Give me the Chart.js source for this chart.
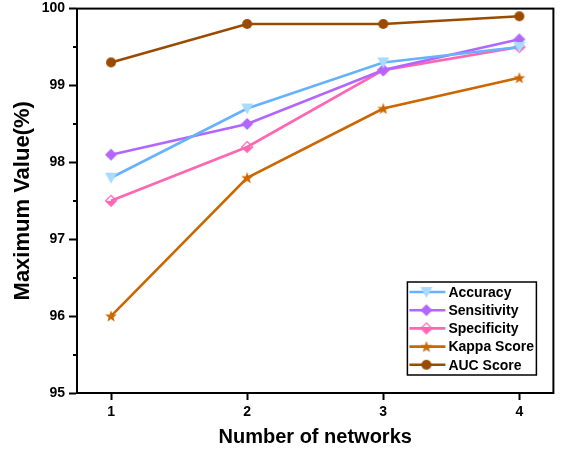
<!DOCTYPE html>
<html>
<head>
<meta charset="utf-8">
<script src="https://cdn.jsdelivr.net/npm/chart.js@4/dist/chart.umd.min.js"></script>
<style>
  html, body { margin: 0; padding: 0; background: #fff; }
  #wrap { width: 562px; height: 453px; }
</style>
</head>
<body>
<div id="wrap"><canvas id="c" width="562" height="453"></canvas></div>
<script>
const networks = [1, 2, 3, 4];
const accuracy    = [97.8, 98.7, 99.3, 99.5];
const sensitivity = [98.1, 98.5, 99.2, 99.6];
const specificity = [97.5, 98.2, 99.2, 99.5];
const kappa       = [96.0, 97.8, 98.7, 99.1];
const auc         = [99.3, 99.8, 99.8, 99.9];
const yTicks = [95, 96, 97, 98, 99, 100];
const seriesNames = ['Accuracy', 'Sensitivity', 'Specificity', 'Kappa Score', 'AUC Score'];

const FONT = '"Liberation Sans", Arial, sans-serif';

// marker sprites drawn on small canvases
function sprite(size, draw) {
  const c = document.createElement('canvas');
  c.width = size; c.height = size;
  const g = c.getContext('2d');
  draw(g, size / 2);
  return c;
}
const triDown = sprite(16, (g, m) => {
  g.beginPath();
  g.moveTo(m - 6, m - 5); g.lineTo(m + 6, m - 5); g.lineTo(m, m + 6);
  g.closePath(); g.fillStyle = '#a8dbff'; g.fill();
});
const diamond = sprite(16, (g, m) => {
  g.beginPath();
  g.moveTo(m, m - 6); g.lineTo(m + 6, m); g.lineTo(m, m + 6); g.lineTo(m - 6, m);
  g.closePath(); g.fillStyle = '#b266ff'; g.fill();
});
const halfDiamond = sprite(16, (g, m) => {
  g.beginPath();
  g.moveTo(m - 5.5, m); g.lineTo(m + 5.5, m); g.lineTo(m, m + 5.5);
  g.closePath(); g.fillStyle = '#ff66b2'; g.fill();
  g.beginPath();
  g.moveTo(m, m - 5.5); g.lineTo(m + 5.5, m); g.lineTo(m, m + 5.5); g.lineTo(m - 5.5, m);
  g.closePath(); g.lineWidth = 1.2; g.strokeStyle = '#ff66b2'; g.stroke();
});
const star = sprite(16, (g, m) => {
  g.beginPath();
  for (let i = 0; i < 10; i++) {
    const r = i % 2 === 0 ? 6.2 : 2.6;
    const a = -Math.PI / 2 + i * Math.PI / 5;
    const px = m + r * Math.cos(a), py = m + r * Math.sin(a) + 0.5;
    i === 0 ? g.moveTo(px, py) : g.lineTo(px, py);
  }
  g.closePath(); g.fillStyle = '#cc6600'; g.fill();
});
const circle = sprite(14, (g, m) => {
  g.beginPath(); g.arc(m, m, 5, 0, Math.PI * 2);
  g.fillStyle = '#994c00'; g.fill();
});

function pts(vals) { return vals.map((v, i) => ({ x: networks[i], y: v })); }

const styles = [
  { color: '#66b2ff', marker: triDown,     data: accuracy },
  { color: '#b266ff', marker: diamond,     data: sensitivity },
  { color: '#ff66b2', marker: halfDiamond, data: specificity },
  { color: '#cc6600', marker: star,        data: kappa },
  { color: '#994c00', marker: circle,      data: auc }
];

const datasets = styles.map((s, i) => ({
  label: seriesNames[i],
  data: pts(s.data),
  borderColor: s.color,
  backgroundColor: s.color,
  borderWidth: 2.6,
  pointStyle: s.marker,
  pointRadius: 6,
  pointHoverRadius: 6,
  tension: 0
}));

// frame, minor ticks and boxed legend
const decor = {
  id: 'decor',
  afterDraw(chart) {
    const { ctx, chartArea: a } = chart;
    const ys = chart.scales.y;
    ctx.save();
    ctx.strokeStyle = '#000';
    ctx.lineWidth = 2;
    ctx.strokeRect(a.left, a.top, a.right - a.left, a.bottom - a.top);

    // minor ticks at half units
    ctx.beginPath();
    for (let v = 95.5; v < 100; v += 1) {
      const y = Math.round(ys.getPixelForValue(v));
      ctx.moveTo(a.left - 4, y); ctx.lineTo(a.left, y);
    }
    ctx.stroke();

    // legend
    const bx = a.right - 146, by = a.bottom - 111, bw = 129, bh = 93;
    ctx.lineWidth = 1.5;
    ctx.fillStyle = '#fff';
    ctx.fillRect(bx, by, bw, bh);
    ctx.strokeRect(bx, by, bw, bh);
    ctx.font = 'bold 14px ' + FONT;
    ctx.textBaseline = 'middle';
    styles.forEach((s, i) => {
      const y = by + 10 + i * 18.2;
      ctx.strokeStyle = s.color;
      ctx.lineWidth = 2.6;
      ctx.beginPath(); ctx.moveTo(bx + 2, y); ctx.lineTo(bx + 38, y); ctx.stroke();
      const m = s.marker;
      ctx.drawImage(m, bx + 19 - m.width / 2, y - m.height / 2);
      ctx.fillStyle = '#000';
      ctx.fillText(seriesNames[i], bx + 41, y + 1);
    });
    ctx.restore();
  }
};

new Chart(document.getElementById('c'), {
  type: 'line',
  data: { datasets },
  options: {
    responsive: false,
    animation: false,
    events: [],
    layout: { padding: { top: 8, right: 7, left: 0, bottom: 0 } },
    plugins: { legend: { display: false }, tooltip: { enabled: false } },
    scales: {
      x: {
        type: 'linear',
        min: 0.75,
        max: 4.25,
        afterBuildTicks: s => { s.ticks = networks.map(v => ({ value: v })); },
        afterFit: s => { s.height = 60; s.paddingLeft = 0; s.paddingRight = 0; },
        ticks: { color: '#000', font: { family: FONT, size: 14, weight: 'bold' }, padding: 4 },
        grid: { drawOnChartArea: false, tickLength: 7, tickWidth: 2, tickColor: '#000' },
        border: { display: true, color: '#000', width: 2 },
        title: { display: true, text: 'Number of networks', color: '#000',
                 font: { family: FONT, size: 20, weight: 'bold' }, padding: { top: 0 } }
      },
      y: {
        min: 95,
        max: 100,
        afterBuildTicks: s => { s.ticks = yTicks.map(v => ({ value: v })); },
        afterFit: s => { s.width = 77; s.paddingTop = 0; s.paddingBottom = 0; },
        ticks: {
          color: '#000', font: { family: FONT, size: 14, weight: 'bold' }, padding: 4
        },
        grid: { drawOnChartArea: false, tickLength: 8, tickWidth: 2, tickColor: '#000' },
        border: { display: true, color: '#000', width: 2 },
        title: { display: true, text: 'Maximum Value(%)', color: '#000',
                 font: { family: FONT, size: 22, weight: 'bold' }, padding: { top: 10, bottom: 0 } }
      }
    }
  },
  plugins: [decor]
});
</script>
</body>
</html>
